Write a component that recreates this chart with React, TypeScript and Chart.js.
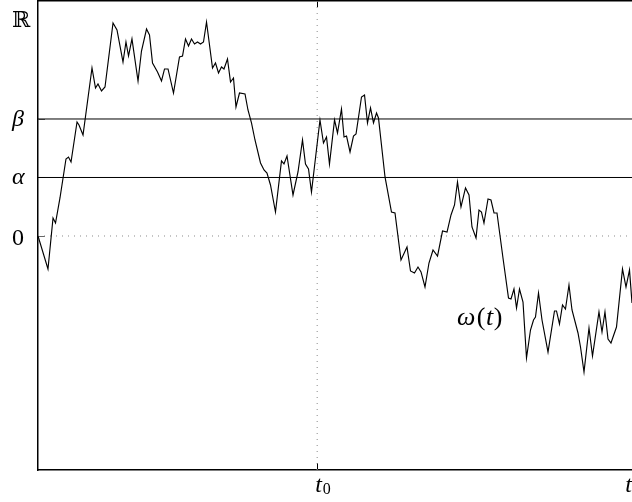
import { useEffect, useRef } from 'react';
import { Chart, registerables } from 'chart.js';

Chart.register(...registerables);

// Time axis runs from 0 to T_END; t0 marks the dotted vertical.
const T0 = 0.47;
const T_END = 1;

// Levels on the value axis.
const ALPHA = 1;
const BETA = 2;
const W_MIN = -4;
const W_MAX = 4.034;

// Sample path ω(t).
const pathT = [
  0, 0.0168, 0.0253, 0.0295, 0.037, 0.0471, 0.0513, 0.0556, 0.0657, 0.069,
  0.0758, 0.0909, 0.0968, 0.101, 0.1069, 0.1128, 0.1263, 0.133, 0.1431, 0.1481,
  0.1524, 0.1582, 0.1684, 0.1742, 0.1827, 0.1877, 0.1928, 0.2012, 0.2079, 0.213,
  0.2189, 0.2281, 0.2382, 0.2433, 0.2483, 0.2534, 0.2584, 0.2635, 0.2685, 0.2736,
  0.2786, 0.2837, 0.2938, 0.2988, 0.3039, 0.3089, 0.3131, 0.319, 0.3241, 0.3291,
  0.3333, 0.3392, 0.3485, 0.3535, 0.3594, 0.3653, 0.3746, 0.3805, 0.3855, 0.3914,
  0.3998, 0.4099, 0.4141, 0.4192, 0.4293, 0.4377, 0.4453, 0.4503, 0.4554, 0.4604,
  0.4747, 0.4806, 0.4857, 0.4907, 0.4992, 0.5042, 0.5109, 0.5152, 0.5194, 0.5253,
  0.5311, 0.5354, 0.5446, 0.5497, 0.5547, 0.5598, 0.5648, 0.5699, 0.5732, 0.5842,
  0.5951, 0.601, 0.6111, 0.6212, 0.6271, 0.6338, 0.6397, 0.6448, 0.6515, 0.6582,
  0.665, 0.6726, 0.681, 0.6886, 0.6953, 0.7012, 0.7062, 0.7121, 0.7197, 0.7256,
  0.7306, 0.7374, 0.7424, 0.7466, 0.7508, 0.7576, 0.7626, 0.7677, 0.7727, 0.7828,
  0.7921, 0.7963, 0.8013, 0.8056, 0.8106, 0.8165, 0.8224, 0.8291, 0.8342, 0.8375,
  0.8426, 0.8485, 0.8586, 0.8695, 0.8729, 0.8779, 0.883, 0.888, 0.8939, 0.899,
  0.9091, 0.9133, 0.9192, 0.9276, 0.9335, 0.9444, 0.9495, 0.9545, 0.9596, 0.9646,
  0.9739, 0.984, 0.9899, 0.9958, 1,
];
const pathW = [
  0, -0.564, 0.308, 0.222, 0.65, 1.316, 1.35, 1.265, 1.949, 1.897,
  1.726, 2.872, 2.53, 2.598, 2.479, 2.547, 3.641, 3.521, 2.974, 3.316,
  3.077, 3.368, 2.65, 3.162, 3.538, 3.436, 2.957, 2.803, 2.65, 2.855,
  2.855, 2.444, 3.06, 3.077, 3.368, 3.248, 3.368, 3.282, 3.316, 3.282,
  3.316, 3.658, 2.872, 2.957, 2.786, 2.889, 2.855, 3.026, 2.632, 2.701,
  2.205, 2.444, 2.427, 2.154, 1.932, 1.641, 1.248, 1.128, 1.077, 0.872,
  0.41, 1.282, 1.231, 1.368, 0.701, 1.094, 1.641, 1.231, 1.145, 0.752,
  1.983, 1.59, 1.692, 1.231, 1.983, 1.761, 2.171, 1.692, 1.709, 1.436,
  1.709, 1.744, 2.376, 2.41, 1.932, 2.188, 1.932, 2.103, 2.017, 1.009,
  0.41, 0.393, -0.41, -0.188, -0.598, -0.632, -0.53, -0.615, -0.872, -0.462,
  -0.239, -0.342, 0.085, 0.068, 0.359, 0.53, 0.923, 0.496, 0.821, 0.701,
  0.154, -0.034, 0.444, 0.41, 0.222, 0.632, 0.615, 0.393, 0.393, -0.376,
  -1.06, -1.077, -0.906, -1.231, -0.906, -1.128, -2.085, -1.607, -1.436, -1.385,
  -0.974, -1.436, -1.983, -1.282, -1.282, -1.504, -1.179, -1.248, -0.838, -1.265,
  -1.658, -1.897, -2.325, -1.573, -2.051, -1.299, -1.641, -1.299, -1.761, -1.829,
  -1.556, -0.564, -0.872, -0.581, -1.145,
];

// Value-axis labels.
const yTickValues = [0, ALPHA, BETA];
const yTickLabels = ['0', 'α', 'β'];
const yTickItalic = [false, true, true];
const yAxisName = 'ℝ';
const yAxisNameAt = 3.72;

// Time-axis labels: base symbol plus optional subscript.
const xTickValues = [T0, T_END];
const xTickBase = ['t', 't'];
const xTickSub = ['0', ''];

// Curve annotation "ω(t)".
const curveLabelText = ['ω', '(', 't', ')'];
const curveLabelItalic = [true, false, true, false];
const curveLabelT = 0.7054;
const curveLabelW = -1.52;

const SERIF = '"Liberation Serif", "DejaVu Serif", "DejaVu Sans", serif';
const font = (size: number, italic: boolean) => `${italic ? 'italic ' : ''}${size}px ${SERIF}`;

const mathAxes = {
  id: 'mathAxes',
  beforeDatasetsDraw(chart: any) {
    const { ctx, chartArea, scales } = chart;
    const x = scales.x;
    const y = scales.y;
    ctx.save();
    // top frame line
    ctx.strokeStyle = '#000';
    ctx.lineWidth = 1.5;
    ctx.beginPath();
    ctx.moveTo(chartArea.left, chartArea.top + 0.75);
    ctx.lineTo(chartArea.right, chartArea.top + 0.75);
    ctx.stroke();
    // inner tick marks on the time axis (bottom and top)
    ctx.lineWidth = 1;
    for (const v of xTickValues) {
      const px = Math.round(x.getPixelForValue(v)) + 0.5;
      ctx.beginPath();
      ctx.moveTo(px, chartArea.bottom);
      ctx.lineTo(px, chartArea.bottom - 7);
      ctx.moveTo(px, chartArea.top);
      ctx.lineTo(px, chartArea.top + 7);
      ctx.stroke();
    }
    // inner tick marks on the value axis
    ctx.strokeStyle = '#666';
    for (const v of yTickValues) {
      const py = Math.round(y.getPixelForValue(v)) + 0.5;
      ctx.beginPath();
      ctx.moveTo(chartArea.left, py);
      ctx.lineTo(chartArea.left + 7, py);
      ctx.stroke();
    }
    ctx.restore();
  },
  afterDraw(chart: any) {
    const { ctx, chartArea, scales } = chart;
    const x = scales.x;
    const y = scales.y;
    ctx.save();
    ctx.fillStyle = '#000';
    ctx.textAlign = 'left';
    ctx.textBaseline = 'alphabetic';

    // value-axis labels, glyph box centred on the level
    const drawYLabel = (text: string, italic: boolean, size: number, py: number) => {
      ctx.font = font(size, italic);
      const m = ctx.measureText(text);
      const h = m.actualBoundingBoxAscent + m.actualBoundingBoxDescent;
      const base = py + h / 2 - m.actualBoundingBoxDescent;
      ctx.fillText(text, 12, base);
    };
    yTickValues.forEach((v, i) => {
      drawYLabel(yTickLabels[i], yTickItalic[i], 24, y.getPixelForValue(v) + 1.5);
    });
    drawYLabel(yAxisName, false, 22, y.getPixelForValue(yAxisNameAt));

    // time-axis labels
    const base = chartArea.bottom + 22;
    xTickValues.forEach((v, i) => {
      const px = x.getPixelForValue(v);
      ctx.font = font(24, true);
      const wBase = ctx.measureText(xTickBase[i]).width;
      if (xTickSub[i]) {
        const left = px - 2;
        ctx.fillText(xTickBase[i], left, base);
        ctx.font = font(16, false);
        ctx.fillText(xTickSub[i], left + wBase + 1, base + 2);
      } else {
        ctx.fillText(xTickBase[i], px - wBase, base);
      }
    });

    // curve annotation
    let cx = x.getPixelForValue(curveLabelT);
    const cy = y.getPixelForValue(curveLabelW);
    curveLabelText.forEach((s, i) => {
      ctx.font = font(26, curveLabelItalic[i]);
      ctx.fillText(s, cx, cy);
      cx += ctx.measureText(s).width + (i === 0 ? 1.5 : 0.5);
    });
    ctx.restore();
  },
};

export default function App() {
  const canvasRef = useRef<HTMLCanvasElement | null>(null);

  useEffect(() => {
    const canvas = canvasRef.current;
    if (!canvas) return;
    const dotted = { borderColor: '#8a8a8a', borderWidth: 1, borderDash: [1, 5], pointRadius: 0 };
    const solid = { borderColor: '#000', borderWidth: 1, pointRadius: 0 };
    const chart = new Chart(canvas, {
      type: 'line',
      data: {
        datasets: [
          {
            data: pathT.map((t, i) => ({ x: t, y: pathW[i] })),
            borderColor: '#000',
            borderWidth: 1.15,
            pointRadius: 0,
            tension: 0,
          },
          { data: [{ x: 0, y: BETA }, { x: T_END, y: BETA }], ...solid },
          { data: [{ x: 0, y: ALPHA }, { x: T_END, y: ALPHA }], ...solid },
          { data: [{ x: 0, y: 0 }, { x: T_END, y: 0 }], ...dotted },
          { data: [{ x: T0, y: W_MIN }, { x: T0, y: W_MAX }], ...dotted },
        ],
      } as any,
      options: {
        animation: false,
        responsive: false,
        maintainAspectRatio: false,
        events: [],
        layout: { padding: 0 },
        plugins: { legend: { display: false }, tooltip: { enabled: false } },
        scales: {
          x: {
            type: 'linear',
            min: 0,
            max: T_END,
            ticks: { display: false },
            grid: { display: false },
            border: { display: true, color: '#000', width: 1.5 },
            afterFit: (s: any) => {
              s.height = 32;
            },
          },
          y: {
            type: 'linear',
            min: W_MIN,
            max: W_MAX,
            ticks: { display: false },
            grid: { display: false },
            border: { display: true, color: '#000', width: 1.5 },
            afterFit: (s: any) => {
              s.width = 38;
            },
          },
        },
      } as any,
      plugins: [mathAxes],
    });
    return () => chart.destroy();
  }, []);

  return (
    <div style={{ position: 'fixed', left: 0, top: 0, width: 632, height: 502, background: '#fff' }}>
      <canvas ref={canvasRef} width={632} height={502} style={{ display: 'block' }} />
    </div>
  );
}
